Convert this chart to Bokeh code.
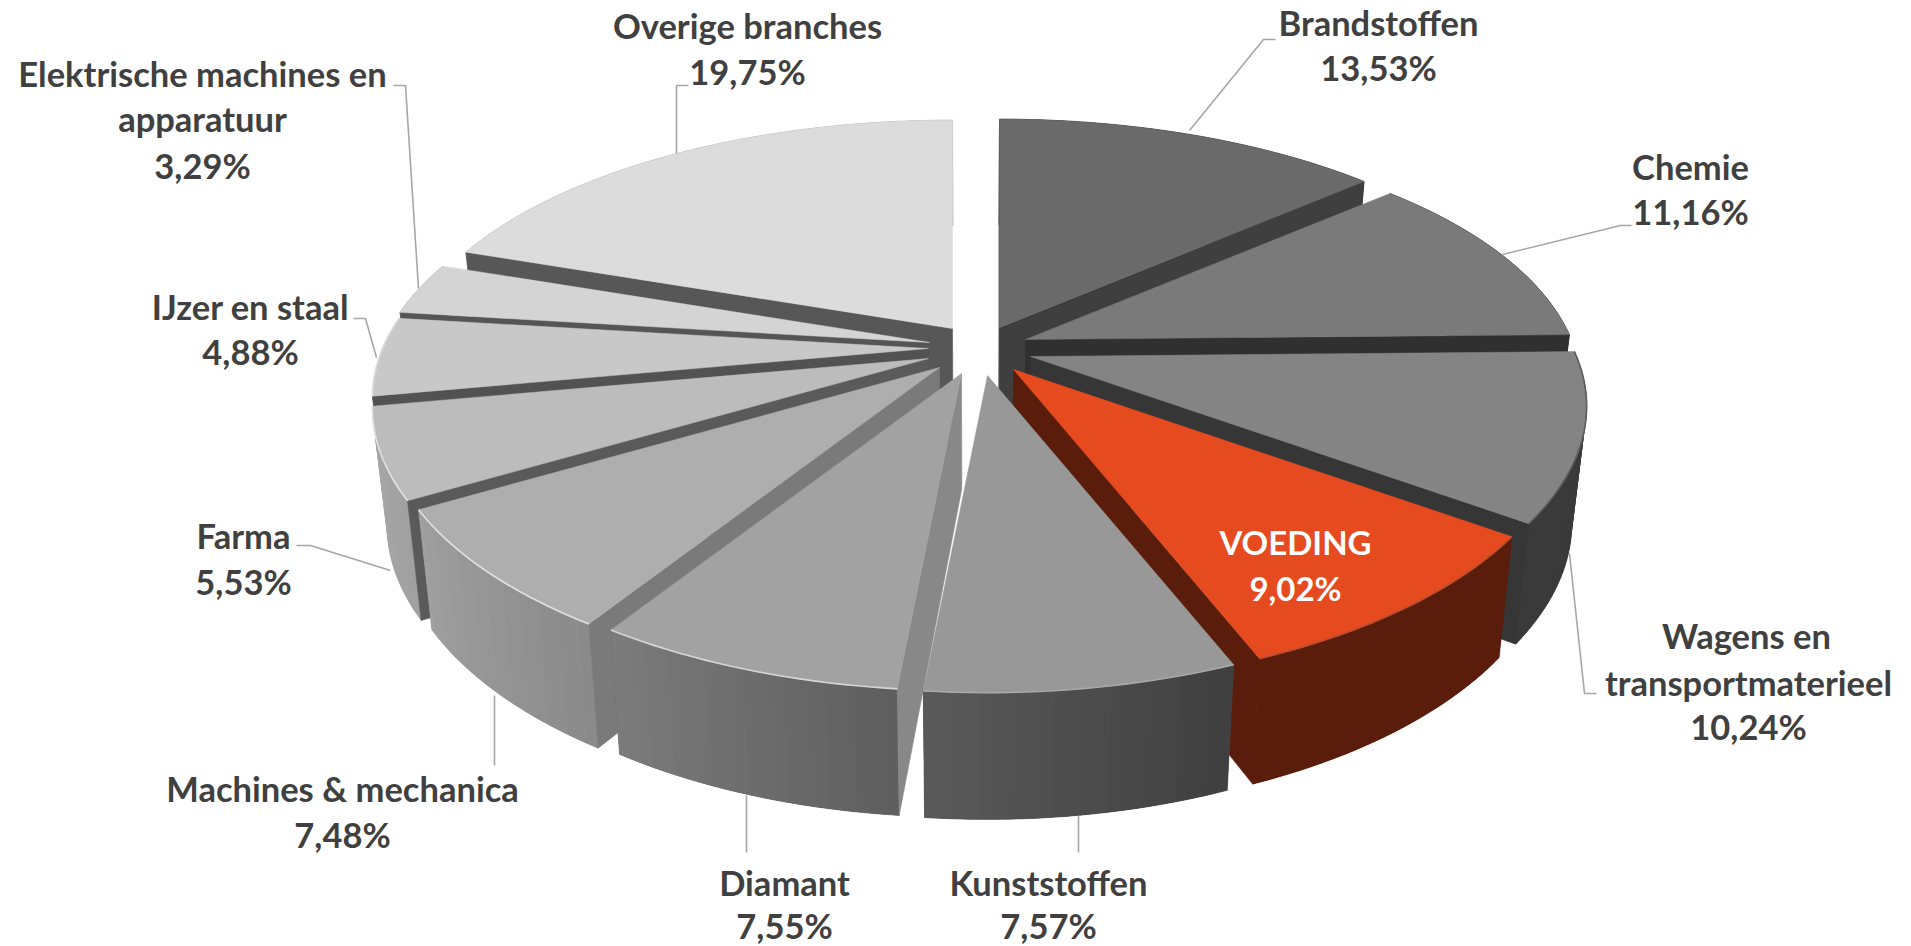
import math
from bokeh.plotting import figure
from bokeh.embed import file_html
from bokeh.resources import INLINE
from bokeh.core.properties import value

# ---- data (clockwise from 12 o'clock) ----
names = ["Brandstoffen", "Chemie", "Wagens en transportmaterieel", "VOEDING", "Kunststoffen",
         "Diamant", "Machines & mechanica", "Farma", "IJzer en staal",
         "Elektrische machines en apparatuur", "Overige branches"]
shares = [13.53, 11.16, 10.24, 9.02, 7.57, 7.55, 7.48, 5.53, 4.88, 3.29, 19.75]

top_colors = ["#6a6a6a", "#7a7a7a", "#848484", "#e64b1f", "#989898", "#a2a2a2", "#aeaeae",
              "#bcbcbc", "#c8c8c8", "#d4d4d4", "#dcdcdc"]
cut_colors = ["#3f3f3f", "#303030", "#363636", "#5b1d0b", "#4a4a4a", "#888888", "#7a7a7a",
              "#5a5a5a", "#525252", "#555555", "#575757"]
wall_start = ["#3f3f3f", "#333333", "#3a3a3a", "#5b1d0b", "#3f3f3f", "#5e5e5e", "#8a8a8a",
              "#a0a0a0", "#a8a8a8", "#aaaaaa", "#aaaaaa"]
wall_end = ["#3f3f3f", "#333333", "#3a3a3a", "#5b1d0b", "#5a5a5a", "#7c7c7c", "#a0a0a0",
            "#a8a8a8", "#aaaaaa", "#aaaaaa", "#aaaaaa"]
rim_colors = [None, None, "#5c5c5c", "#b8502f", "#a8a8a8", "#d6d6d6", "#e0e0e0",
              "#e2e2e2", "#dddddd", None, None]
show_start_cut = [True, False, False, False, False, True, True, True, True, True, True]
show_end_cut = [True, True, True, True, False, False, False, False, False, False, False]

# exploded tip of every slice, in page pixels
tips = [(999, 327), (1025, 339), (1030, 356), (1013, 369), (987, 375), (961, 373),
        (939, 367), (928, 358), (928, 348), (929, 342), (952, 328)]

# ---- projection ----
A, B, KX, KY = 546.0, 251.5, 0.19, 0.207
CX = 975.0


def rim(tip, deg):
    t = math.radians(deg)
    u, v = math.sin(t), math.cos(t)
    return tip[0] + A * u / (1 + KX * v), tip[1] - B * v / (1 + KY * v)


def drop(pt):
    x, y = pt
    return CX + (x - CX) * 0.976, y + 120 + 0.037 * (y - 510)


def mix(c1, c2, f):
    a = [int(c1[i:i + 2], 16) for i in (1, 3, 5)]
    b = [int(c2[i:i + 2], 16) for i in (1, 3, 5)]
    return "#%02x%02x%02x" % tuple(round(p + (q - p) * f) for p, q in zip(a, b))


p = figure(width=1911, height=946, x_range=(0, 1911), y_range=(946, 0),
           output_backend="svg", toolbar_location=None, min_border=0,
           outline_line_color=None, background_fill_color="white")
p.axis.visible = False
p.grid.visible = False

edges = [0.0]
for s in shares:
    edges.append(edges[-1] + s * 3.6)

draw_order = [10, 0, 9, 1, 8, 2, 7, 3, 6, 5, 4]


def quad(p1, p2, color):
    q1, q2 = drop(p1), drop(p2)
    p.patch([p1[0], p2[0], q2[0], q1[0]], [p1[1], p2[1], q2[1], q1[1]],
            fill_color=color, line_color=color, line_width=0.6)


for i in draw_order:
    tip = tips[i]
    a0, a1 = edges[i], edges[i + 1]
    n = max(6, int((a1 - a0) / 1.2))
    degs = [a0 + (a1 - a0) * j / n for j in range(n + 1)]
    arc = [rim(tip, d) for d in degs]
    low = [drop(c) for c in arc]
    # outer wall: a base shape, then overlapping facets carrying the shading
    base = mix(wall_start[i], wall_end[i], 0.5)
    p.patch([c[0] for c in arc] + [c[0] for c in reversed(low)],
            [c[1] for c in arc] + [c[1] for c in reversed(low)],
            fill_color=base, line_color=base, line_width=0.6)
    xs, ys, cols = [], [], []
    for j in range(n):
        k = min(n, j + 2)
        xs.append([arc[j][0], arc[k][0], low[k][0], low[j][0]])
        ys.append([arc[j][1], arc[k][1], low[k][1], low[j][1]])
        cols.append(mix(wall_start[i], wall_end[i], (j + 0.5) / n))
    p.patches(xs, ys, fill_color=cols, line_color=None)
    # radial cut faces
    if show_start_cut[i]:
        quad(tip, arc[0], cut_colors[i])
    if show_end_cut[i]:
        quad(tip, arc[-1], cut_colors[i])
    # top face
    p.patch([tip[0]] + [c[0] for c in arc], [tip[1]] + [c[1] for c in arc],
            fill_color=top_colors[i], line_color=top_colors[i], line_width=0.5)
    if rim_colors[i]:
        p.line([c[0] for c in arc], [c[1] for c in arc], line_color=rim_colors[i], line_width=1.6)

# ---- leader lines ----
leaders = [
    ([1189, 1263, 1275], [130, 39, 39]),
    ([1502, 1620, 1631], [254, 225, 225]),
    ([1569, 1584, 1596], [553, 693, 693]),
    ([390, 310, 296], [570, 545, 545]),
    ([494, 494], [695, 765]),
    ([746, 746], [795, 852]),
    ([1078, 1078], [815, 852]),
    ([376, 365, 353], [357, 318, 318]),
    ([418, 405, 393], [288, 85, 85]),
    ([676, 676, 688], [153, 85, 85]),
]
for lx, ly in leaders:
    p.line(lx, ly, line_color="#a6a6a6", line_width=1.6)

# ---- labels ----
label_font = value("Lato")
label_rows = [
    ("Overige branches", 747, 25), ("19,75%", 747, 71),
    ("Brandstoffen", 1378, 22), ("13,53%", 1378, 67),
    ("Chemie", 1690, 166), ("11,16%", 1690, 211),
    ("Elektrische machines en", 202, 73), ("apparatuur", 202, 118), ("3,29%", 202, 165),
    ("IJzer en staal", 250, 306), ("4,88%", 250, 351),
    ("Farma", 243, 535), ("5,53%", 243, 581),
    ("Machines & mechanica", 342, 788), ("7,48%", 342, 834),
    ("Diamant", 784, 882), ("7,55%", 784, 925),
    ("Kunststoffen", 1048, 882), ("7,57%", 1048, 925),
    ("Wagens en", 1746, 635), ("transportmaterieel", 1748, 682), ("10,24%", 1748, 726),
]
p.text([r[1] for r in label_rows], [r[2] for r in label_rows], text=[r[0] for r in label_rows],
       text_font=label_font, text_font_style="bold", text_font_size="34.5px", text_color="#404040",
       text_align="center", text_baseline="middle")
p.text([1295, 1295], [541, 587], text=["VOEDING", "9,02%"], text_font=label_font,
       text_font_style="bold", text_font_size="33px", text_color="#ffffff",
       text_align="center", text_baseline="middle")

open("out.html", "w").write(file_html(p, INLINE))
